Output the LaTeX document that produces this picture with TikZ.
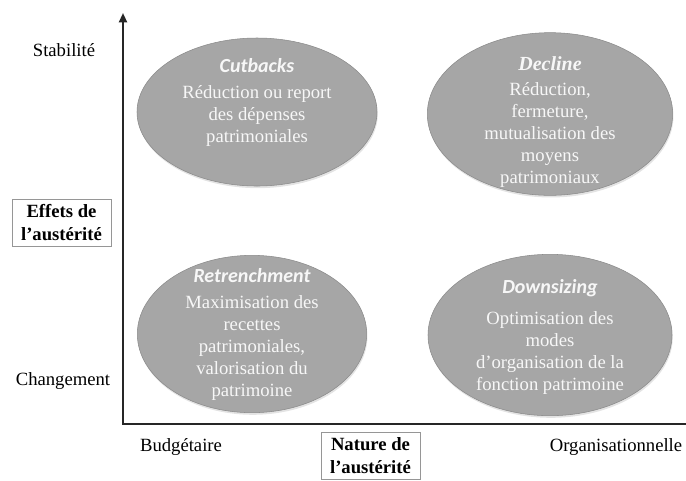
\documentclass[tikz,border=0pt]{standalone}
\usepackage{fontspec}
\setmainfont{Liberation Serif}
\newfontfamily\qsans{Carlito}
\usepackage{tikz}
\usetikzlibrary{arrows,arrows.meta,shapes,positioning,shadows}
\usepackage{xcolor}
\definecolor{qgray}{RGB}{166,166,166}
\definecolor{qedge}{RGB}{138,138,138}
\definecolor{qtext}{RGB}{247,247,247}
\definecolor{boxedge}{RGB}{150,150,150}
\tikzstyle{axis} = [line width=1.5pt,color=black!85]
\tikzstyle{quadrant} = [ellipse,fill=qgray,draw=qedge,thin,inner sep=0pt,drop shadow={opacity=0.22,shadow xshift=0.6pt,shadow yshift=-1.6pt}]
\tikzstyle{quadtext} = [align=center,text=qtext,inner sep=0pt,font=\fontsize{14}{16.5}\selectfont]
\tikzstyle{axislabel} = [font=\fontsize{14}{16.5}\selectfont]
\tikzstyle{axistitle} = [draw=boxedge,thin,align=center,font=\bfseries\fontsize{14}{17}\selectfont,minimum width=74pt,inner ysep=4pt]
\newcommand{\qtitle}[1]{{\qsans\bfseries\itshape\fontsize{15}{18}\selectfont #1}}

\begin{document}
\begin{tikzpicture}[x=0.75pt,y=-0.75pt]
\useasboundingbox (0,0) rectangle (686,480);
\clip (0,0) rectangle (686,480);

% Axes
\coordinate (origin) at (123,424);
\coordinate (ytip) at (123,13);
\coordinate (xend) at (690,424);
\draw[axis,-{Triangle[length=7pt,width=6pt]}] (xend) -- (origin) -- (ytip);

% Axis labels
\node[axislabel] (stab) at (64,50) {Stabilité};
\node[axislabel] (chg) at (63,381) {Changement};
\node[axistitle] (effets) at (61.5,222.5) {Effets de\\l’austérité};
\node[axislabel] (budg) at (181,447) {Budgétaire};
\node[axislabel] (orga) at (616,447) {Organisationnelle};
\node[axistitle,anchor=north] (nature) at (370.5,432) {Nature de\\l’austérité};

% Quadrants
\node[quadrant,minimum width=180pt,minimum height=111pt] (cutbacks) at (257,112) {};
\node[quadrant,minimum width=184pt,minimum height=122pt] (decline) at (550,114) {};
\node[quadrant,minimum width=172pt,minimum height=118pt] (retrench) at (252,334) {};
\node[quadrant,minimum width=183pt,minimum height=121pt] (downsizing) at (550,335) {};

\node[quadtext] (cutbackstext) at ([yshift=7pt]cutbacks.center)
  {\qtitle{Cutbacks}\\[3pt]Réduction ou report\\des dépenses\\patrimoniales};
\node[quadtext] (declinetext) at ([yshift=-6pt]decline.center)
  {{\bfseries\itshape\fontsize{15}{18}\selectfont Decline}\\[2pt]Réduction,\\fermeture,\\mutualisation des\\moyens\\patrimoniaux};
\node[quadtext] (retrenchtext) at (retrench.center)
  {\qtitle{Retrenchment}\\[3pt]Maximisation des\\recettes\\patrimoniales,\\valorisation du\\patrimoine};
\node[quadtext] (downsizingtext) at ([yshift=-1.5pt]downsizing.center)
  {\qtitle{Downsizing}\\[7pt]Optimisation des\\modes\\d’organisation de la\\fonction patrimoine};
\end{tikzpicture}
\end{document}
